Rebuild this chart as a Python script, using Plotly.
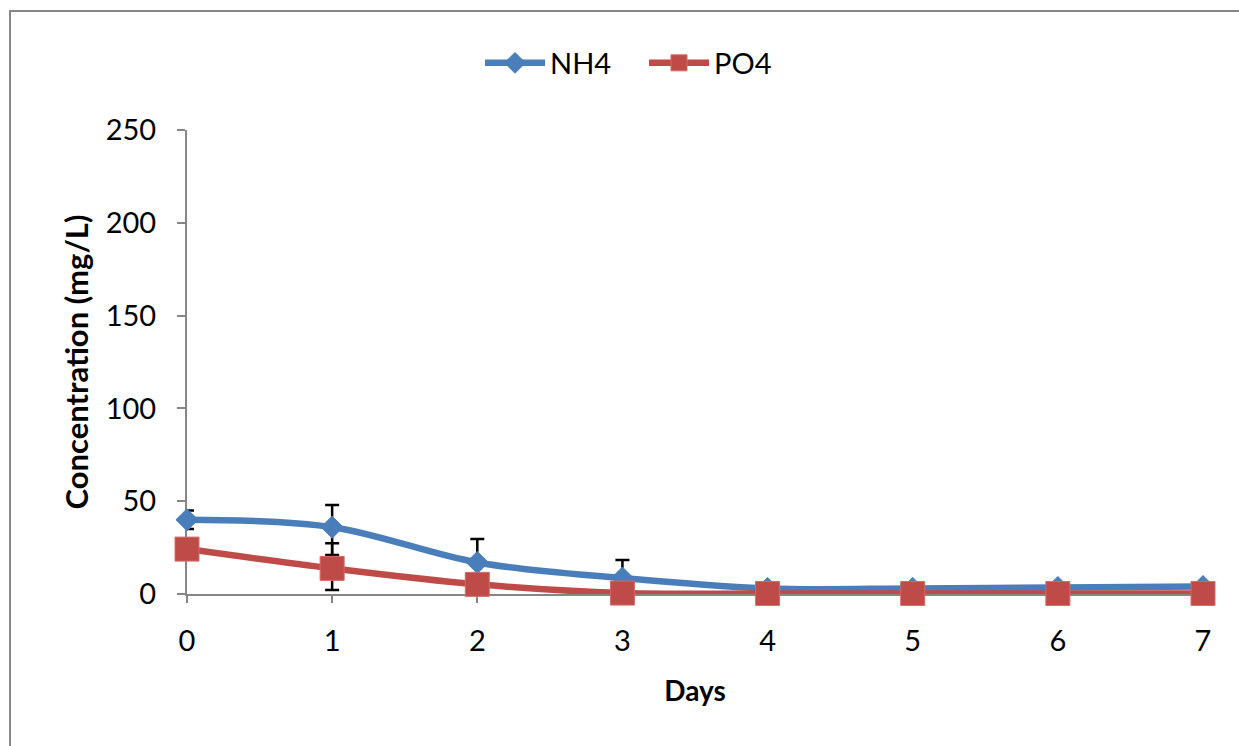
import plotly.graph_objects as go

days = [0, 1, 2, 3, 4, 5, 6, 7]
nh4 = [40, 36, 17, 8.6, 3, 3, 3.5, 4]
nh4_err_plus = [5, 12, 12.6, 9.7, 0, 0, 0, 0]
nh4_err_minus = [5, 15, 12.6, 9.7, 0, 0, 0, 0]
po4 = [24.2, 13.8, 5.2, 0.5, 0.3, 0.3, 0.3, 0.3]
po4_err_plus = [3, 13.6, 3, 0.5, 0, 0, 0, 0]
po4_err_minus = [3, 11.7, 3, 0.5, 0, 0, 0, 0]

y_ticks = [0, 50, 100, 150, 200, 250]

BLUE = "#4A7EBB"
RED = "#BE4B48"
AXIS = "#868686"
FONT = "Lato, 'Open Sans', sans-serif"

W, H = 1239, 746
L, R, T, B = 187, 1239 - 1203, 130, 746 - 594

fig = go.Figure()
fig.add_trace(go.Scatter(
    x=days, y=nh4, name="NH4", mode="lines+markers",
    line=dict(color=BLUE, width=6.5, shape="spline", smoothing=1),
    marker=dict(symbol="diamond", size=17, color=BLUE, line=dict(color=BLUE, width=1)),
    error_y=dict(type="data", array=nh4_err_plus, arrayminus=nh4_err_minus,
                 color="black", thickness=2.5, width=7, symmetric=False),
    cliponaxis=False,
))
fig.add_trace(go.Scatter(
    x=days, y=po4, name="PO4", mode="lines+markers",
    line=dict(color=RED, width=6.5, shape="spline", smoothing=1),
    marker=dict(symbol="square", size=24, color=RED, line=dict(color="#D46A67", width=1)),
    error_y=dict(type="data", array=po4_err_plus, arrayminus=po4_err_minus,
                 color="black", thickness=2.5, width=7, symmetric=False),
    cliponaxis=False,
))

px_w = W - L - R
px_h = H - T - B

def px_x(p):
    return (p - L) / px_w

def px_y(p):
    return (H - B - p) / px_h

fig.update_layout(
    width=W, height=H,
    margin=dict(l=L, r=R, t=T, b=B, pad=0),
    autosize=False,
    paper_bgcolor="white", plot_bgcolor="white",
    font=dict(family=FONT, size=29, color="black"),
    showlegend=True,
    legend=dict(orientation="h", x=px_x(480), xanchor="left", y=px_y(63), yanchor="middle",
                font=dict(size=29), itemwidth=60, entrywidth=89, entrywidthmode="pixels",
                bgcolor="rgba(0,0,0,0)"),
    xaxis=dict(range=[0, 7], tickvals=days, ticktext=[str(d) for d in days],
               showgrid=False, zeroline=False, showline=True, linecolor=AXIS, linewidth=2,
               ticks="outside", ticklen=7, tickcolor=AXIS, tickwidth=2,
               ticklabelstandoff=13, layer="below traces",
               title=dict(text="<b>Days</b>", font=dict(size=28), standoff=26)),
    yaxis=dict(range=[0, 250], tickvals=y_ticks, ticktext=[str(v) for v in y_ticks],
               showgrid=False, zeroline=False, showline=True, linecolor=AXIS, linewidth=2,
               ticks="outside", ticklen=8, tickcolor=AXIS, tickwidth=2,
               ticklabelstandoff=15, layer="below traces",
               title=dict(text="<b>Concentration (mg/L)</b>", font=dict(size=31), standoff=8)),
    shapes=[dict(type="rect", xref="paper", yref="paper",
                 x0=px_x(10), x1=px_x(1260), y0=px_y(790), y1=px_y(11),
                 line=dict(color=AXIS, width=2), fillcolor="rgba(0,0,0,0)", layer="below")],
)

fig.write_html("out.html", config={"displayModeBar": False},
               post_script="document.body.style.margin='0';document.body.style.overflow='hidden';")
